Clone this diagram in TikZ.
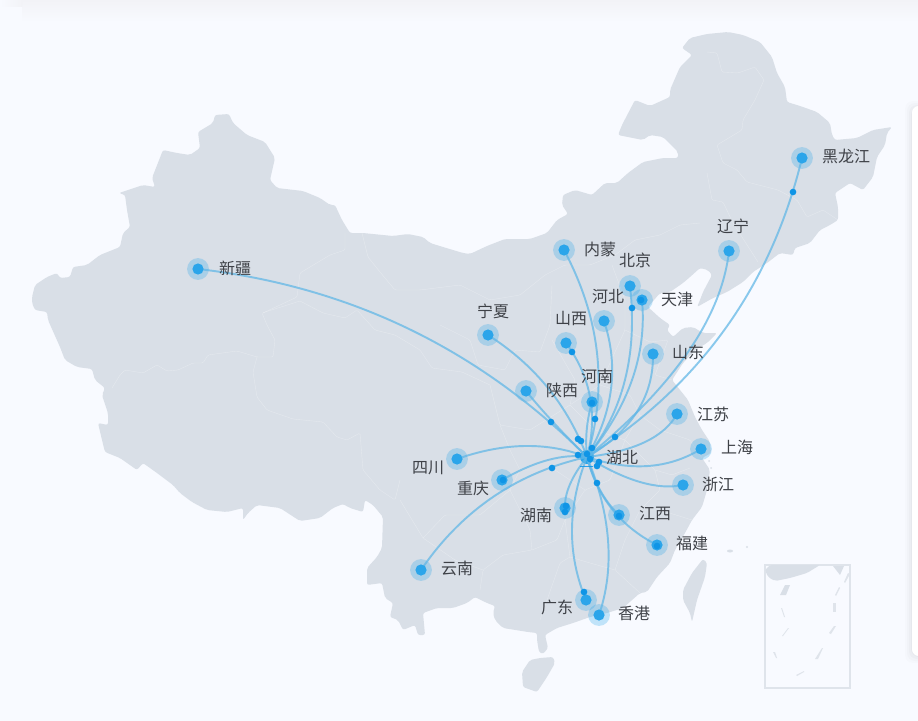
\documentclass[tikz,border=0pt]{standalone}
\usepackage{fontspec}
\usetikzlibrary{calc}
\newfontfamily\cjk{Noto Sans CJK SC}
\definecolor{pagebg}{HTML}{F8FAFF}
\definecolor{bandtop}{HTML}{F2F3F7}
\definecolor{landc}{HTML}{D9DFE7}
\definecolor{flowc}{HTML}{5FB6E6}
\definecolor{dotc}{HTML}{2BA5EA}
\definecolor{movec}{HTML}{0F95E6}
\definecolor{inkc}{HTML}{3E4147}
\definecolor{framec}{HTML}{DFE4EB}
\tikzset{
  land/.style={fill=landc,draw=none,rounded corners=1.6pt},
  border/.style={draw=white,opacity=.3,line width=.3pt,line join=round,rounded corners=1pt},
  halo/.style={circle,fill=dotc,fill opacity=.27,draw=none,minimum size=16.4pt,inner sep=0pt},
  core/.style={circle,fill=dotc,draw=none,minimum size=8.4pt,inner sep=0pt},
  mover/.style={circle,fill=movec,draw=none,minimum size=5pt,inner sep=0pt},
  flow/.style={draw=flowc,opacity=.72,line width=1.45pt},
  lab/.style={font=\cjk\fontsize{12}{12}\selectfont,text=inkc,inner sep=0pt},
  islet/.style={fill=framec,draw=none}
}
\newcommand{\flowto}[2]{\draw[flow] (#1.center) .. controls ($(#1.center)!0.667!(#2)$) and ($(hb.center)!0.667!(#2)$) .. (hb.center);}
\begin{document}
\begin{tikzpicture}[x=0.75pt,y=-0.75pt]
\useasboundingbox (0,0) rectangle (918,721);
\clip (0,0) rectangle (918,721);
\fill[pagebg] (0,0) rectangle (918,721);
\shade[top color=bandtop,bottom color=pagebg,draw=none] (22,0) rectangle (918,22);
\shade[left color=pagebg,right color=bandtop,draw=none] (0,0) rectangle (22,6);
% side panel
\foreach \d/\o in {7/.012,5/.015,3/.02,1/.025}{\fill[black,opacity=\o,rounded corners=6pt] (912-\d,108-\d) rectangle (950,656+\d);}
\fill[white,rounded corners=5pt] (912,106) rectangle (950,656);
% mainland
\path[land] (682,48) -- (690,38) -- (707,34) -- (728,32) -- (743,35) -- (760,42) -- (772,57) -- (777,73) -- (785,87) -- (787,102) -- (800,106) -- (817,112) -- (830,123) -- (832,135) -- (835,140) -- (857,138) -- (873,130) -- (892,127) -- (887,133) -- (885,145) -- (877,157) -- (873,177) -- (863,190) -- (850,183) -- (835,193) -- (838,207) -- (838,220) -- (830,225) -- (820,230) -- (810,243) -- (795,248) -- (793,255) -- (780,253) -- (767,263) -- (753,272) -- (743,282) -- (727,292) -- (713,298) -- (697,307) -- (700,300) -- (703,292) -- (712,275) -- (708,270) -- (700,268) -- (690,277) -- (683,283) -- (670,292) -- (660,293) -- (648,307) -- (660,318) -- (670,325) -- (667,330) -- (673,337) -- (683,328) -- (693,327) -- (703,333) -- (717,333) -- (707,343) -- (695,350) -- (683,363) -- (672,380) -- (680,390) -- (688,400) -- (695,417) -- (702,430) -- (710,442) -- (711,453) -- (702,458) -- (710,470) -- (707,490) -- (702,507) -- (692,520) -- (685,533) -- (675,550) -- (670,563) -- (657,577) -- (647,592) -- (640,593) -- (623,608) -- (607,613) -- (590,617) -- (573,623) -- (557,628) -- (545,635) -- (548,648) -- (543,654) -- (539,652) -- (537,640) -- (537,633) -- (528,632) -- (503,628) -- (495,620) -- (493,613) -- (495,606) -- (487,603) -- (475,597) -- (467,603) -- (453,608) -- (437,608) -- (423,613) -- (425,635) -- (418,635) -- (415,625) -- (403,630) -- (398,620) -- (390,617) -- (393,603) -- (385,598) -- (382,583) -- (367,585) -- (367,568) -- (377,557) -- (382,548) -- (383,517) -- (373,505) -- (365,500) -- (363,512) -- (350,508) -- (343,504) -- (333,508) -- (320,518) -- (300,521) -- (280,508) -- (257,505) -- (248,513) -- (243,520) -- (243,508) -- (227,512) -- (207,510) -- (192,502) -- (180,493) -- (173,485) -- (157,473) -- (143,463) -- (137,470) -- (120,458) -- (105,452) -- (102,440) -- (98,423) -- (108,425) -- (108,413) -- (102,395) -- (105,388) -- (95,380) -- (92,369) -- (77,367) -- (65,360) -- (60,347) -- (48,320) -- (47,312) -- (35,310) -- (32,303) -- (32,297) -- (35,285) -- (47,277) -- (57,273) -- (60,278) -- (70,277) -- (73,267) -- (87,265) -- (100,255) -- (120,247) -- (123,233) -- (130,227) -- (127,210) -- (125,195) -- (119,193) -- (143,185) -- (155,187) -- (152,178) -- (163,150) -- (177,153) -- (190,155) -- (200,148) -- (198,132) -- (213,123) -- (215,115) -- (229,114) -- (233,123) -- (247,135) -- (265,142) -- (275,158) -- (270,180) -- (277,188) -- (303,191) -- (320,198) -- (330,205) -- (335,205) -- (342,220) -- (350,233) -- (363,233) -- (393,236) -- (408,234) -- (423,237) -- (430,243) -- (443,247) -- (463,253) -- (470,254) -- (487,246) -- (505,239) -- (530,239) -- (547,233) -- (557,220) -- (568,214) -- (562,205) -- (563,195) -- (575,190) -- (592,195) -- (605,183) -- (617,183) -- (628,173) -- (643,162) -- (663,158) -- (678,158) -- (678,152) -- (663,137) -- (650,135) -- (643,140) -- (628,137) -- (618,135) -- (622,125) -- (635,100) -- (650,106) -- (670,97) -- (670,90) -- (680,67) -- (692,55) -- cycle;
% Hainan, Taiwan, small islands
\path[land] (553,657) -- (555,663) -- (547,677) -- (537,692) -- (523,687) -- (522,672) -- (530,660) -- (540,658) -- cycle;
\path[land] (703,559) -- (707,563) -- (705,577) -- (697,600) -- (692,622) -- (690,613) -- (683,600) -- (683,590) -- (692,573) -- cycle;
\fill[landc] (730,551) ellipse (3 and 1.5);
\fill[landc] (747,547) circle (1.2);
\fill[landc] (711,468) circle (1);
\fill[landc] (709,461) circle (1);
% province borders
\draw[border] (112,388) -- (120,375) -- (125,370) -- (143,373) -- (157,365) -- (167,371) -- (178,370) -- (193,363) -- (203,363) -- (208,355) -- (237,351) -- (257,357) -- (273,357) -- (275,340) -- (267,325) -- (262,313) -- (300,301) -- (323,313) -- (345,318) -- (357,310) -- (375,330) -- (395,335) -- (420,350) -- (432,368) -- (462,372) -- (490,385);
\draw[border] (257,357) -- (253,372) -- (257,397) -- (267,410) -- (293,419) -- (323,422) -- (337,437) -- (347,440) -- (360,433) -- (363,470) -- (380,490) -- (395,500) -- (400,480);
\draw[border] (345,233) -- (345,250) -- (330,255) -- (300,273) -- (297,297) -- (263,313);
\draw[border] (362,233) -- (368,257) -- (380,272) -- (395,290) -- (420,290) -- (460,285) -- (490,300) -- (520,295) -- (545,275) -- (565,265) -- (590,265) -- (615,255) -- (635,240) -- (660,235) -- (680,225) -- (700,223);
\draw[border] (707,52) -- (717,53) -- (722,72) -- (738,73) -- (755,67) -- (764,80) -- (755,100) -- (743,120) -- (742,130) -- (717,145) -- (723,163) -- (737,170) -- (747,182) -- (778,190) -- (797,200) -- (807,217) -- (823,210) -- (838,220);
\draw[border] (707,173) -- (712,200) -- (723,202) -- (733,223) -- (758,262);
\draw[border] (440,325) -- (470,340) -- (478,365) -- (505,370) -- (515,350) -- (540,352) -- (550,325) -- (552,285);
\draw[border] (552,340) -- (575,380) -- (570,405) -- (600,385) -- (625,330) -- (625,300) -- (612,265);
\draw[border] (625,330) -- (650,342) -- (668,340) -- (655,375) -- (672,380);
\draw[border] (600,385) -- (630,395) -- (640,415) -- (625,440) -- (595,430) -- (570,405);
\draw[border] (640,415) -- (660,430) -- (690,440) -- (702,458);
\draw[border] (625,440) -- (655,470) -- (660,490) -- (640,510) -- (660,510) -- (692,520);
\draw[border] (655,470) -- (672,475) -- (690,468);
\draw[border] (640,510) -- (625,540) -- (615,570) -- (640,593);
\draw[border] (615,570) -- (590,563) -- (570,557) -- (560,563) -- (540,620);
\draw[border] (570,557) -- (565,520) -- (585,490) -- (610,480) -- (625,440);
\draw[border] (585,490) -- (555,470) -- (520,470) -- (510,490) -- (530,530) -- (532,550) -- (503,555) -- (483,570) -- (480,590);
\draw[border] (532,550) -- (557,540) -- (565,520);
\draw[border] (483,570) -- (455,560) -- (423,538) -- (400,500);
\draw[border] (423,538) -- (445,515) -- (480,515) -- (510,490);
\draw[border] (490,385) -- (500,425) -- (530,430) -- (570,405);
\draw[border] (500,425) -- (510,450) -- (520,470);
% inset
\draw[framec,line width=1.1pt] (765,565) rectangle (850,688);
\path[land] (765,570) -- (770,565) -- (820,565) -- (807,573) -- (790,578) -- (775,581) -- (768,577) -- cycle;
\path[fill=landc] (833,566) -- (844,566) -- (840,575) -- cycle;
\path[islet] (844,582) -- (848,573) -- (850,574) -- (845,583) -- cycle;
\path[islet] (835,595) -- (839,587) -- (840,588) -- (836,596) -- cycle;
\path[fill=landc] (785,585) -- (790,585) -- (786,595) -- (780,595) -- cycle;
\path[islet] (833,603) -- (836,603) -- (836,612) -- (833,612) -- cycle;
\path[islet] (781,608) -- (782,608) -- (785,617) -- (784,617) -- cycle;
\path[islet] (782,636) -- (788,628) -- (789,628) -- (783,636) -- cycle;
\path[islet] (829,633) -- (834,626) -- (836,626) -- (831,634) -- cycle;
\path[islet] (773,652) -- (775,652) -- (777,658) -- (776,658) -- cycle;
\path[islet] (815,659) -- (822,648) -- (823,648) -- (818,659) -- cycle;
\path[islet] (796,675) -- (804,671) -- (804,672) -- (797,676) -- cycle;
% halos
\foreach \n/\x/\y in {xj/198/269,nm/564/250,bj/630/286,tj/642/300,heb/604/321,sx/566/343,hen/592/402,snx/526/391,nx/488/335,sd/653/354,js/677/414,sh/701/449,zj/683/485,jx/619/515,fj/657/545,hun/565/508,gd/586/600,hk/599/615,yn/421/570,sc/457/459,cq/502/480,ln/729/251,hlj/802/158}{
  \node[halo] (\n) at (\x,\y) {};
}
\node[circle,fill=dotc,minimum size=10.5pt,inner sep=0pt] (hb) at (587,457) {};
% flows
\flowto{xj}{425.5,295}
\flowto{nm}{618.5,352.5}
\flowto{bj}{641.5,388}
\flowto{tj}{649.5,381.5}
\flowto{heb}{626.5,389}
\flowto{sx}{603.5,394}
\flowto{hen}{584,430}
\flowto{snx}{549.5,420}
\flowto{nx}{558.5,380}
\flowto{sd}{654,418}
\flowto{js}{658,448.5}
\flowto{sh}{652,479}
\flowto{zj}{645,493}
\flowto{jx}{597,494}
\flowto{fj}{602,517}
\flowto{hun}{564,486}
\flowto{gd}{557.5,531.5}
\flowto{hk}{623,544}
\flowto{yn}{482,480.5}
\flowto{sc}{528,434}
\flowto{cq}{551.5,451.5}
\flowto{ln}{718,350}
\flowto{hlj}{755.5,350.5}
% end dots
\foreach \n/\x/\y in {xj/198/269,nm/564/250,bj/630/286,tj/642/300,heb/604/321,sx/566/343,hen/592/402,snx/526/391,nx/488/335,sd/653/354,js/677/414,sh/701/449,zj/683/485,jx/619/515,fj/657/545,hun/565/508,gd/586/600,hk/599/615,yn/421/570,sc/457/459,cq/502/480,ln/729/251,hlj/802/158}{
  \node[core] (\n core) at (\x,\y) {};
}
% moving dots
\foreach \n/\x/\y in {m1/793/192,m2/632/308,m3/572/352,m4/595/419,m5/551/422,m6/615/437,m7/578/439,m8/581/441,m9/592/448,m10/599/462,m11/597/466,m12/597/483,m13/552/468,m14/578/455,m15/565/512,m16/584/592,m17/619/516,m18/657/546,m19/503/480,m20/641/300,m21/592/403,m22/566/506,m23/587/454,m24/590/459}{
  \node[mover] (\n) at (\x,\y) {};
}
\fill[movec,opacity=.85] (580,465.6) -- (593,465.6) -- (593,466.6) -- (580,466.6) -- cycle;
% labels
\foreach \n/\t/\x/\y in {l1/新疆/235/268.5,l2/内蒙/600/249.5,l3/北京/635/260.5,l4/天津/677/299.5,l5/河北/608/296.5,l6/山西/571/318.5,l7/河南/597/376.5,l8/陕西/562/390.5,l9/宁夏/493/311.5,l10/山东/688/352.5,l11/江苏/713/414.5,l12/上海/737/447.5,l13/湖北/622/457.5,l14/浙江/718/484.5,l15/江西/655/513.5,l16/福建/692/543.5,l17/湖南/536/515.5,l18/广东/557/607.5,l19/香港/634/613.5,l20/云南/457/568.5,l21/四川/428/467.5,l22/重庆/473/488.5,l23/辽宁/733/226.5,l24/黑龙江/846/156.5}{
  \node[lab] (\n) at (\x,\y) {\t};
}
\end{tikzpicture}
\end{document}
